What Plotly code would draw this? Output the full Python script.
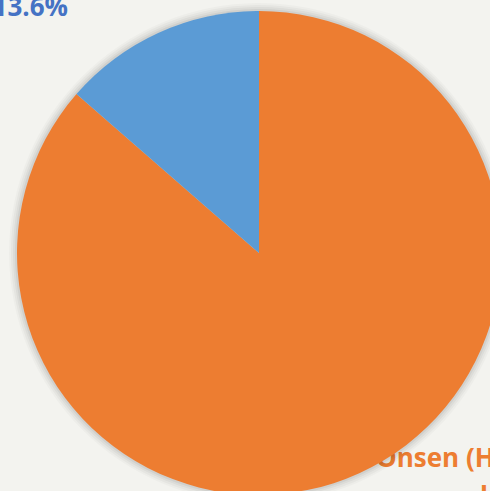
import plotly.graph_objects as go

# ---- data ----
categories = ["Onsen (Hot spring)", "Other"]
values = [86.4, 13.6]
colors = ["#ED7D31", "#5B9BD5"]
label_texts = ["13.6%", "Onsen (Hot spring)", "bathing 86.4%"]
label_colors = ["#4472C4", "#ED7D31", "#ED7D31"]

W, H = 520, 520
cx, cy, r = 259, 253, 242

def dom(rad):
    return dict(x=[(cx - rad) / W, (cx + rad) / W],
                y=[1 - (cy + rad) / H, 1 - (cy - rad) / H])

fig = go.Figure()

# text labels drawn on a hidden cartesian layer (below the pie layer)
fig.add_trace(go.Scatter(
    x=[68, 376, 480], y=[9, 447, 486], mode="text",
    text=label_texts,
    textposition=["middle left", "bottom right", "bottom right"],
    textfont=dict(family="Open Sans", size=26, color=label_colors, weight="bold"),
    hoverinfo="skip", showlegend=False, cliponaxis=False,
))

# soft shadow
for d, a in [(8, 0.025), (6, 0.03), (4, 0.04), (2, 0.05)]:
    fig.add_trace(go.Pie(
        values=[sum(values)], labels=["shadow"], marker=dict(colors=[f"rgba(0,0,0,{a})"]),
        textinfo="none", hoverinfo="skip", showlegend=False, sort=False,
        domain=dom(r + d),
    ))

fig.add_trace(go.Pie(
    labels=categories, values=values, sort=False, direction="clockwise",
    rotation=0, marker=dict(colors=colors, line=dict(width=0)),
    textinfo="none", showlegend=False, domain=dom(r),
))

fig.update_layout(
    width=W, height=H, margin=dict(l=0, r=0, t=0, b=0),
    paper_bgcolor="#F3F3EF", plot_bgcolor="rgba(0,0,0,0)",
    xaxis=dict(range=[0, W], visible=False, fixedrange=True, domain=[0, 1]),
    yaxis=dict(range=[H, 0], visible=False, fixedrange=True, domain=[0, 1]),
    showlegend=False,
)

fig.write_html("out.html", config={"displayModeBar": False},
               post_script="document.body.style.margin='0';document.body.style.overflow='hidden';document.body.style.background='#F3F3EF';")
